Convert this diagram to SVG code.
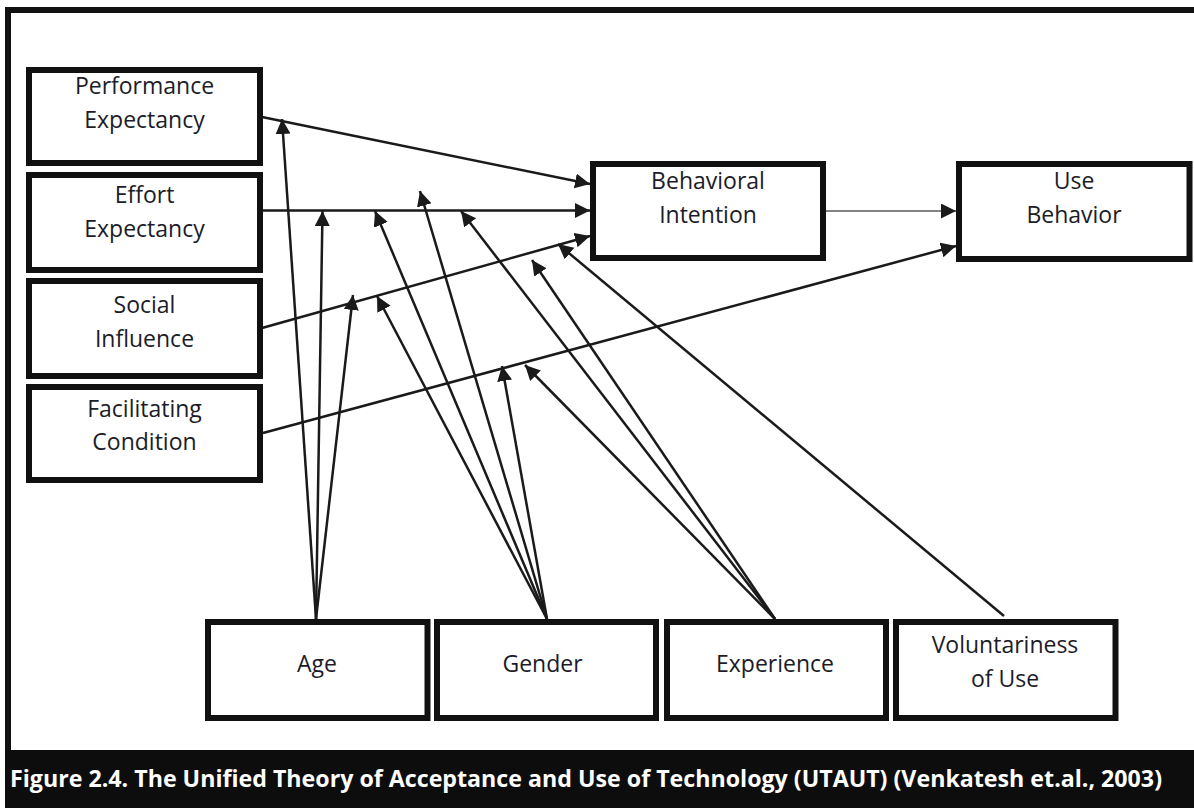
<svg xmlns="http://www.w3.org/2000/svg" width="1194" height="808" viewBox="0 0 1194 808">
  <style>
    .box { fill: #ffffff; stroke: #111111; stroke-width: 6; }
    .lbl { font-family: "Open Sans", "Noto Sans", "Liberation Sans", sans-serif; font-size: 23px; fill: #1c1c28; text-anchor: middle; }
    .link { fill: none; stroke: #1a1a1a; stroke-width: 2.5; marker-end: url(#arrow); }
    .thin { fill: none; stroke: #5a5a5a; stroke-width: 1.5; marker-end: url(#arrow); }
    .caption { font-family: "Open Sans", "Noto Sans", "Liberation Sans", sans-serif; font-size: 23px; font-weight: bold; fill: #ffffff; }
  </style>
  <defs>
    <marker id="arrow" markerUnits="userSpaceOnUse" markerWidth="16" markerHeight="16" refX="15" refY="7.5" orient="auto">
      <path d="M0,0 L15,7.5 L0,15 Z" fill="#1a1a1a"/>
    </marker>
  </defs>

  <rect x="0" y="0" width="1194" height="808" fill="#ffffff"/>

  <!-- outer frame -->
  <path d="M8,751 V10 H1200" fill="none" stroke="#111111" stroke-width="6"/>

  <!-- caption bar -->
  <g id="caption">
    <rect x="5" y="750" width="1195" height="60" fill="#0d0d0d"/>
    <text class="caption" x="10" y="787" textLength="1152" lengthAdjust="spacingAndGlyphs">Figure 2.4. The Unified Theory of Acceptance and Use of Technology (UTAUT) (Venkatesh et.al., 2003)</text>
  </g>

  <!-- connectors -->
  <g id="connectors">
    <!-- determinants to intention / behaviour -->
    <path class="link" d="M262,117 L590,184"/>
    <path class="link" d="M262,210.5 L590,210.5"/>
    <path class="link" d="M262,328 L590,236"/>
    <path class="link" d="M263,433 L956,246"/>
    <path class="thin" d="M826,211 L956,211"/>
    <!-- age moderation -->
    <path class="link" d="M316,619 L282,119"/>
    <path class="link" d="M316,619 L322.5,211"/>
    <path class="link" d="M316,619 L353,295"/>
    <!-- gender moderation -->
    <path class="link" d="M547,619 L420,191"/>
    <path class="link" d="M547,619 L375,211"/>
    <path class="link" d="M547,619 L377,296"/>
    <path class="link" d="M547,619 L502,366"/>
    <!-- experience moderation -->
    <path class="link" d="M775,619 L461,211"/>
    <path class="link" d="M775,619 L532,260"/>
    <path class="link" d="M775,619 L525,365"/>
    <!-- voluntariness moderation -->
    <path class="link" d="M1004,616 L558,244"/>
  </g>

  <g id="performance-expectancy">
    <rect class="box" x="29" y="70" width="231" height="93"/>
    <text class="lbl" x="144.5" y="94">Performance</text>
    <text class="lbl" x="144.5" y="127.5">Expectancy</text>
  </g>
  <g id="effort-expectancy">
    <rect class="box" x="29" y="175" width="231" height="95"/>
    <text class="lbl" x="144.5" y="203">Effort</text>
    <text class="lbl" x="144.5" y="237">Expectancy</text>
  </g>
  <g id="social-influence">
    <rect class="box" x="29" y="281" width="231" height="95"/>
    <text class="lbl" x="144.5" y="313">Social</text>
    <text class="lbl" x="144.5" y="347">Influence</text>
  </g>
  <g id="facilitating-condition">
    <rect class="box" x="29" y="387" width="231" height="93"/>
    <text class="lbl" x="144.5" y="416.5">Facilitating</text>
    <text class="lbl" x="144.5" y="450">Condition</text>
  </g>
  <g id="behavioral-intention">
    <rect class="box" x="593" y="164" width="230" height="94"/>
    <text class="lbl" x="708" y="189">Behavioral</text>
    <text class="lbl" x="708" y="222.5">Intention</text>
  </g>
  <g id="use-behavior">
    <rect class="box" x="959" y="164" width="230.5" height="95"/>
    <text class="lbl" x="1074" y="189">Use</text>
    <text class="lbl" x="1074" y="222.5">Behavior</text>
  </g>
  <g id="age">
    <rect class="box" x="208" y="622" width="219.5" height="96"/>
    <text class="lbl" x="317" y="672">Age</text>
  </g>
  <g id="gender">
    <rect class="box" x="437" y="622" width="219" height="96"/>
    <text class="lbl" x="542.5" y="672">Gender</text>
  </g>
  <g id="experience">
    <rect class="box" x="667" y="622" width="219" height="96"/>
    <text class="lbl" x="775" y="672">Experience</text>
  </g>
  <g id="voluntariness-of-use">
    <rect class="box" x="896" y="622" width="219.5" height="96"/>
    <text class="lbl" x="1005" y="653">Voluntariness</text>
    <text class="lbl" x="1005" y="687">of Use</text>
  </g>
</svg>
